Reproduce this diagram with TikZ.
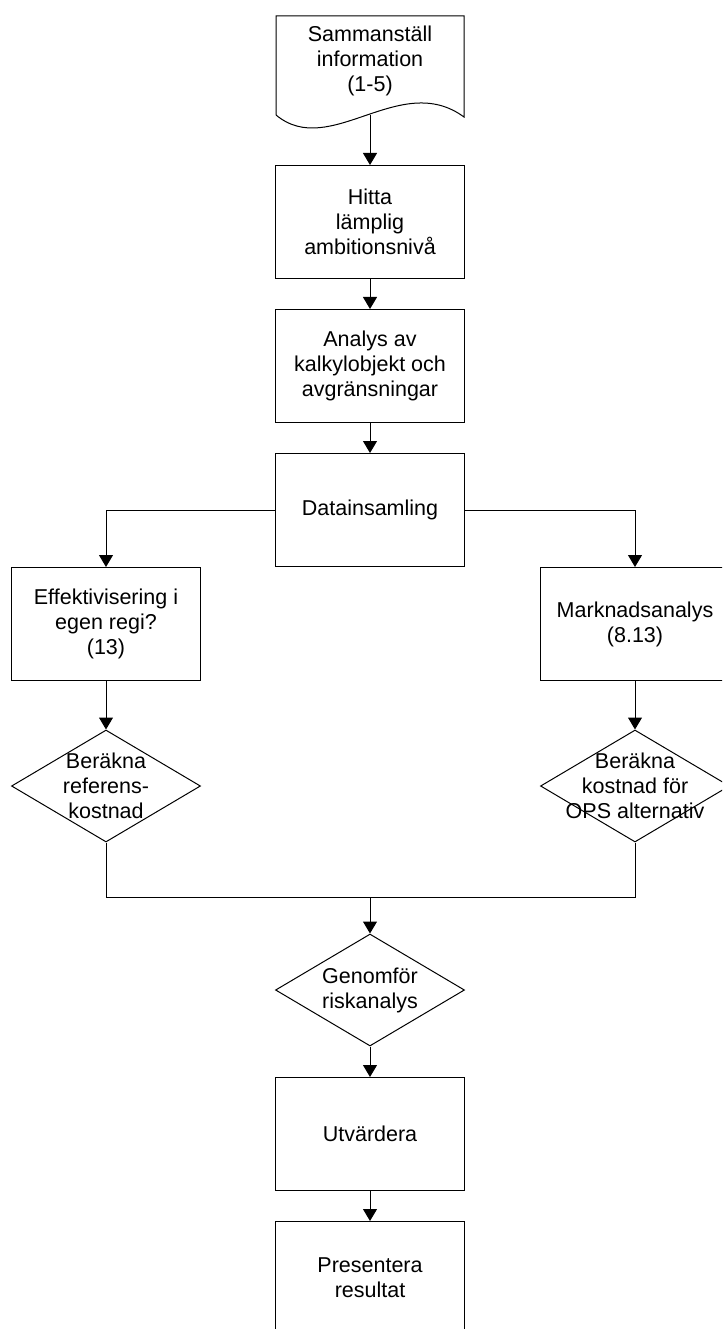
\documentclass[tikz,border=0pt]{standalone}
\usepackage{fontspec}
\setmainfont{Liberation Sans}
\usetikzlibrary{shapes.geometric,arrows.meta}
\begin{document}
\begin{tikzpicture}[x=1pt,y=-1pt,
  every node/.style={font=\fontsize{21.5}{25}\selectfont},
  procbox/.style={draw,line width=1pt,rectangle,minimum width=189pt,minimum height=113pt,inner sep=0pt,align=center},
  decbox/.style={draw,line width=1pt,diamond,minimum width=189pt,minimum height=112pt,inner sep=0pt},
  lbl/.style={align=center,inner sep=0pt},
  conn/.style={line width=1pt},
  arr/.style={line width=1pt,-{Triangle[length=12pt,width=14pt]}}]
\useasboundingbox (0,0) rectangle (722,1329);
\clip (0,0) rectangle (722,1329);
% document shape
\draw[line width=1pt] (276,115) -- (276,16) -- (464,16) -- (464,117)
  .. controls (400,70) and (330,160) .. (276,115);
\coordinate (docb) at (370,115);
\node[lbl] (doct) at (370,61) {Sammanställ\\information\\(1-5)};
% boxes
\node[procbox] (b2) at (370,222) {Hitta\\lämplig\\ambitionsnivå};
\node[procbox] (b3) at (370,366) {Analys av\\kalkylobjekt och\\avgränsningar};
\node[procbox] (b4) at (370,510) {Datainsamling};
\node[procbox] (eff) at (106,624) {Effektivisering i\\egen regi?\\(13)};
\node[procbox] (mark) at (635,624) {Marknadsanalys\\(8.13)};
\node[decbox] (d1) at (106,786) {};
\node[lbl] (d1t) at (106,786) {Beräkna\\referens-\\kostnad};
\node[decbox] (d2) at (635,786) {};
\node[lbl] (d2t) at (635,786) {Beräkna\\kostnad för\\OPS alternativ};
\node[decbox] (d3) at (370,990) {};
\node[lbl] (d3t) at (370,990) {Genomför\\riskanalys};
\node[procbox] (ut) at (370,1134) {Utvärdera};
\node[procbox] (pres) at (370,1278) {Presentera\\resultat};
\coordinate (j) at (370,897);
% connectors
\draw[arr] (docb) -- (b2.north);
\draw[arr] (b2.south) -- (b3.north);
\draw[arr] (b3.south) -- (b4.north);
\draw[arr] (b4.west) -| (eff.north);
\draw[arr] (b4.east) -| (mark.north);
\draw[arr] (eff.south) -- (d1.north);
\draw[arr] (mark.south) -- (d2.north);
\draw[conn] (d1.south) |- (j);
\draw[conn] (d2.south) |- (j);
\draw[arr] (j) -- (d3.north);
\draw[arr] (d3.south) -- (ut.north);
\draw[arr] (ut.south) -- (pres.north);
\end{tikzpicture}
\end{document}
